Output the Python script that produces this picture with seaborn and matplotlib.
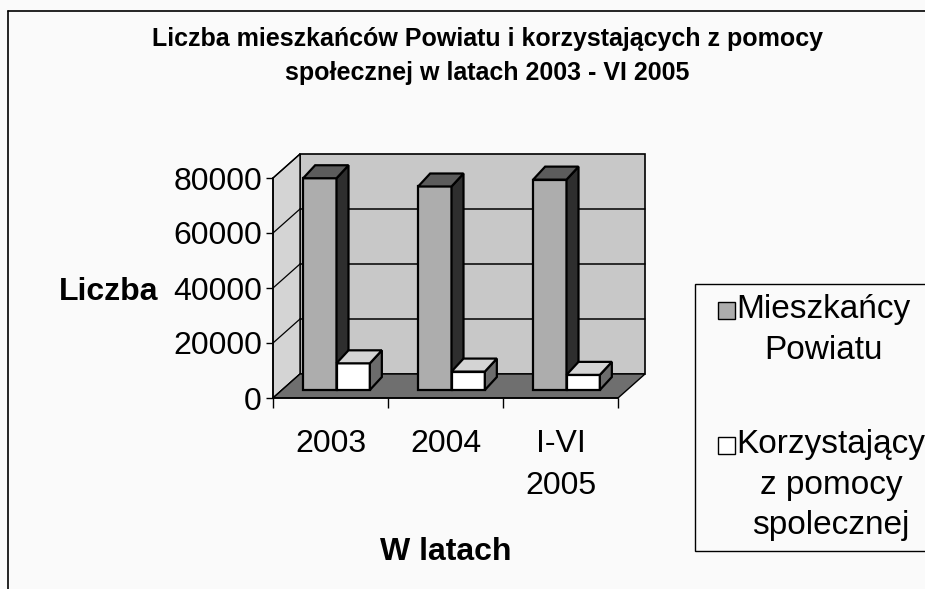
"""Liczba mieszkańców Powiatu i korzystających z pomocy społecznej (3D-style bars)."""

import matplotlib.pyplot as plt
import pandas as pd
import seaborn as sns
from matplotlib.legend_handler import HandlerPatch
from matplotlib.lines import Line2D
from matplotlib.patches import Polygon, Rectangle

sns.set_theme(style="white")
plt.rcParams["font.family"] = ["Liberation Sans", "DejaVu Sans"]
plt.rcParams["text.color"] = "black"
plt.rcParams["axes.labelcolor"] = "black"
plt.rcParams["xtick.color"] = "black"
plt.rcParams["ytick.color"] = "black"

# data
categories = ["2003", "2004", "I-VI\n2005"]
series = ["Mieszkańcy\nPowiatu", "Korzystający\nz pomocy\nspolecznej"]
mieszkancy = [77000, 74000, 76500]
korzystajacy = [9700, 6700, 5500]
y_ticks = [0, 20000, 40000, 60000, 80000]

df = pd.DataFrame({
    "rok": categories * 2,
    "grupa": [series[0]] * 3 + [series[1]] * 3,
    "liczba": mieszkancy + korzystajacy,
})

# layout in pixels (figure is 925 x 589)
FIG_W, FIG_H = 925, 589
AX_L, AX_R, AX_T, AX_B = 273, 618, 178, 398
WALL = (27, 24)       # depth of the chart box
BAR_OFF = (6, 8)      # bars sit a little behind the front plane
BAR_DEPTH = (12, 13)  # depth of a single bar

front = {series[0]: "#adadad", series[1]: "#ffffff"}
side = {series[0]: "#2e2e2e", series[1]: "#6c6c6c"}
top = {series[0]: "#5c5c5c", series[1]: "#d4d4d4"}

fig = plt.figure(figsize=(FIG_W / 100, FIG_H / 100), dpi=100, facecolor="#fafafa")
ax = fig.add_axes([AX_L / FIG_W, 1 - AX_B / FIG_H,
                   (AX_R - AX_L) / FIG_W, (AX_B - AX_T) / FIG_H])
ax.set_facecolor("none")

sns.barplot(data=df, x="rok", y="liczba", hue="grupa", palette=front,
            width=0.58, edgecolor="black", linewidth=1.6, saturation=1,
            legend=False, ax=ax)
bars = list(ax.patches)
ax.set_xlim(-0.5, 2.5)
ax.set_ylim(0, 80000)

sx = 3 / (AX_R - AX_L)
sy = 80000 / (AX_B - AX_T)


def off(px):
    return px[0] * sx, px[1] * sy


# chart box: back wall, side wall, floor
wx, wy = off(WALL)
ax.add_patch(Rectangle((-0.5 + wx, wy), 3, 80000, fc="#c8c8c8", ec="black",
                       lw=1.2, zorder=0.5, clip_on=False))
ax.add_patch(Polygon([(-0.5, 0), (-0.5, 80000), (-0.5 + wx, 80000 + wy), (-0.5 + wx, wy)],
                     fc="#d4d4d4", ec="black", lw=1.0, zorder=0.5, clip_on=False))
ax.add_patch(Polygon([(-0.5, 0), (2.5, 0), (2.5 + wx, wy), (-0.5 + wx, wy)],
                     fc="#6f6f6f", ec="black", lw=1.0, zorder=0.8, clip_on=False))
for v in y_ticks[1:-1]:
    ax.plot([-0.5 + wx, 2.5 + wx], [v + wy, v + wy], color="black", lw=1.1,
            zorder=0.6, clip_on=False)
for v in y_ticks:
    ax.plot([-0.5, -0.5 + wx], [v, v + wy], color="black", lw=0.9,
            zorder=0.7, clip_on=False)

# give every seaborn bar a top and a side face
bx, by = off(BAR_OFF)
dx, dy = off(BAR_DEPTH)
for i, p in enumerate(bars):
    hue = series[i // len(categories)]
    cat = i % len(categories)
    z = 2 + cat * 2 + i // len(categories)
    x0 = p.get_x() + bx
    x1 = x0 + p.get_width()
    h = p.get_height()
    p.set_x(x0)
    p.set_y(by)
    p.set_zorder(z)
    p.set_clip_on(False)
    ax.add_patch(Polygon([(x1, by), (x1, by + h), (x1 + dx, by + h + dy), (x1 + dx, by + dy)],
                         fc=side[hue], ec="black", lw=1.6, zorder=z, clip_on=False))
    ax.add_patch(Polygon([(x0, by + h), (x1, by + h), (x1 + dx, by + h + dy), (x0 + dx, by + h + dy)],
                         fc=top[hue], ec="black", lw=1.6, zorder=z, clip_on=False))

# axes
for s in ["top", "right"]:
    ax.spines[s].set_visible(False)
for s in ["left", "bottom"]:
    ax.spines[s].set_color("black")
    ax.spines[s].set_linewidth(1.2)
    ax.spines[s].set_zorder(1)

ax.set_yticks(y_ticks, labels=[str(v) for v in y_ticks], fontsize=23)
ax.tick_params(axis="y", left=True, length=5, width=1, color="black", pad=3)
ax.set_xticks(range(len(categories)), labels=categories, fontsize=23)
ax.set_xticks([-0.5, 0.5, 1.5, 2.5], minor=True)
ax.tick_params(axis="x", which="major", length=0, pad=22)
ax.tick_params(axis="x", which="minor", bottom=True, length=7, width=1, color="black")
for t in ax.get_xticklabels():
    t.set_linespacing(1.55)

ax.set_xlabel("W latach", fontsize=23, fontweight="bold", labelpad=26)
ax.set_ylabel("Liczba", fontsize=23, fontweight="bold", rotation=0,
              ha="right", va="center")
ax.yaxis.set_label_coords(-0.333, 0.48)

fig.text(0.527, 1 - 27 / FIG_H,
         "Liczba mieszkańców Powiatu i korzystających z pomocy\n"
         "społecznej w latach 2003 - VI 2005",
         ha="center", va="top", fontsize=18, fontweight="bold", linespacing=1.55)

# legend: square next to the first line of each label
LEG_LS = 1.4
LEG_FS = 24
n_lines = {series[0]: 2, series[1]: 3}


def top_square(legend, orig_handle, xdescent, ydescent, width, height, fontsize):
    # legend text is centred on the handle baseline; move the square up to line 1
    size = 0.5 * fontsize
    line_h = (0.716 * LEG_LS + 0.21) * fontsize
    y0 = (orig_handle.n_lines - 1) * line_h / 2 + 0.09 * fontsize
    return Rectangle((-xdescent + width - size, y0), size, size)


handles = []
for s in series:
    r = Rectangle((0, 0), 1, 1, fc=front[s], ec="black", lw=1.0)
    r.n_lines = n_lines[s]
    handles.append(r)

leg = fig.legend(handles, series, loc="upper left",
                 bbox_to_anchor=(695 / FIG_W, 1 - 284 / FIG_H),
                 fontsize=LEG_FS, frameon=True, fancybox=False, framealpha=1,
                 facecolor="#fafafa", edgecolor="black", borderpad=0.3,
                 handlelength=0.9, handletextpad=0.05, labelspacing=1.9,
                 borderaxespad=0,
                 handler_map={Rectangle: HandlerPatch(patch_func=top_square)})
leg.get_frame().set_linewidth(1.0)
for t in leg.get_texts():
    t.set_linespacing(LEG_LS)
    t.set_multialignment("center")

# outer frame of the scanned chart
fig.add_artist(Line2D([8 / FIG_W, 8 / FIG_W], [0, 1 - 11 / FIG_H],
                      transform=fig.transFigure, color="black", lw=1.2))
fig.add_artist(Line2D([8 / FIG_W, 1], [1 - 11 / FIG_H, 1 - 11 / FIG_H],
                      transform=fig.transFigure, color="black", lw=1.2))

fig.savefig("out.png", dpi=100, facecolor=fig.get_facecolor())
plt.close(fig)
